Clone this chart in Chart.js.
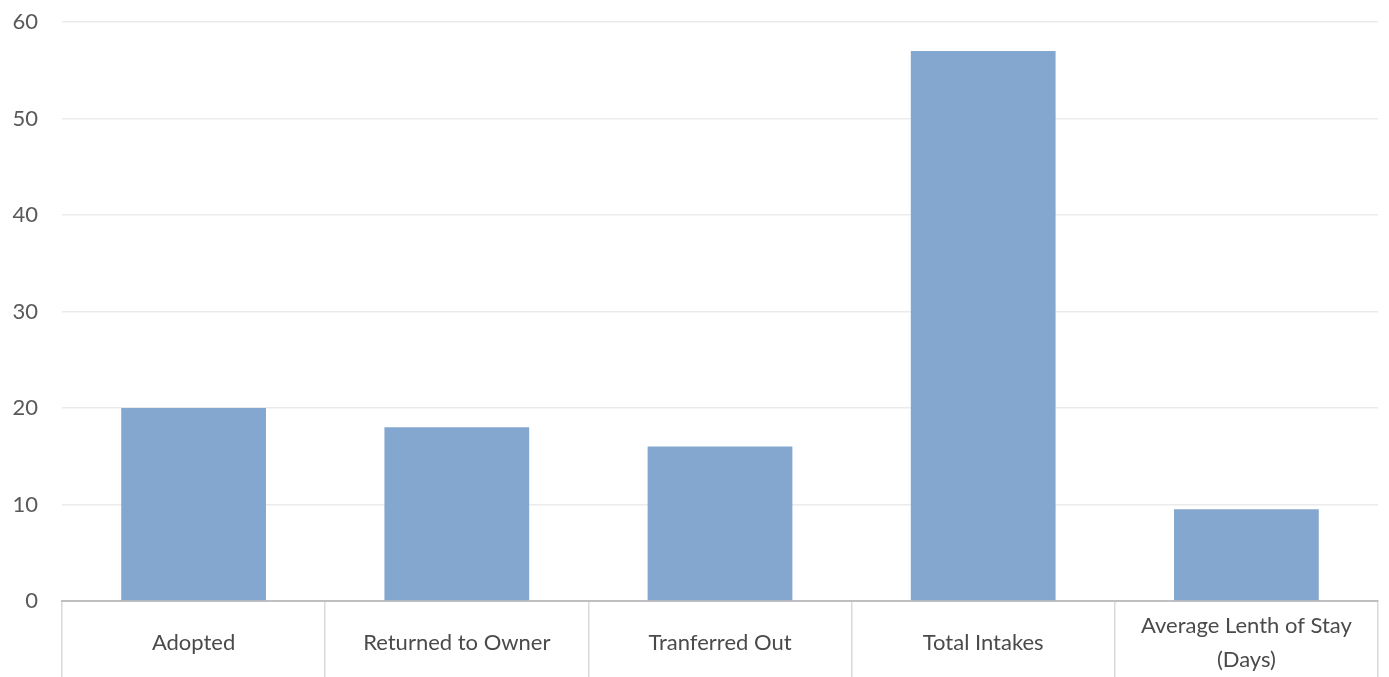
<!doctype html>
<html>
<head>
<meta charset="utf-8">
<title>Shelter Outcomes</title>
<script src="https://cdn.jsdelivr.net/npm/chart.js"></script>
<style>
  html, body { margin: 0; padding: 0; background: #fff; }
  #wrap { width: 1389px; height: 677px; }
</style>
</head>
<body>
<div id="wrap"><canvas id="outcomeChart"></canvas></div>
<script>
// data
const categories = [
  'Adopted',
  'Returned to Owner',
  'Tranferred Out',
  'Total Intakes',
  ['Average Lenth of Stay', '(Days)']
];
const counts = [20, 18, 16, 57, 9.5];
const yTicks = [0, 10, 20, 30, 40, 50, 60];

const ctx = document.getElementById('outcomeChart').getContext('2d');

new Chart(ctx, {
  type: 'bar',
  data: {
    labels: categories,
    datasets: [{
      data: counts,
      backgroundColor: '#83a7cf',
      barPercentage: 0.55,
      categoryPercentage: 1
    }]
  },
  options: {
    responsive: true,
    maintainAspectRatio: false,
    animation: false,
    layout: { padding: { top: 0, right: 11, left: 0, bottom: 0 } },
    plugins: {
      legend: { display: false },
      tooltip: { enabled: false }
    },
    scales: {
      x: {
        grid: {
          offset: true,
          drawOnChartArea: false,
          drawTicks: true,
          tickLength: 77,
          color: '#d9d9d9',
          lineWidth: 1.5
        },
        border: { display: true, color: '#bfbfbf', width: 2 },
        ticks: {
          color: '#4a4a4a',
          padding: -52,
          crossAlign: 'center',
          maxRotation: 0,
          font: { family: 'Lato', size: 22, lineHeight: 1.55 }
        },
        afterFit: scale => { scale.height = 76; }
      },
      y: {
        min: 0,
        max: 60,
        afterBuildTicks: scale => { scale.ticks = yTicks.map(v => ({ value: v })); },
        grid: { color: '#ebebeb', lineWidth: 1.5, drawTicks: false },
        border: { display: false },
        ticks: {
          color: '#595959',
          padding: 24,
          font: { family: 'Lato', size: 22 }
        },
        afterFit: scale => {
          scale.width = 62;
          scale.paddingTop = 22;
        }
      }
    }
  }
});
</script>
</body>
</html>
